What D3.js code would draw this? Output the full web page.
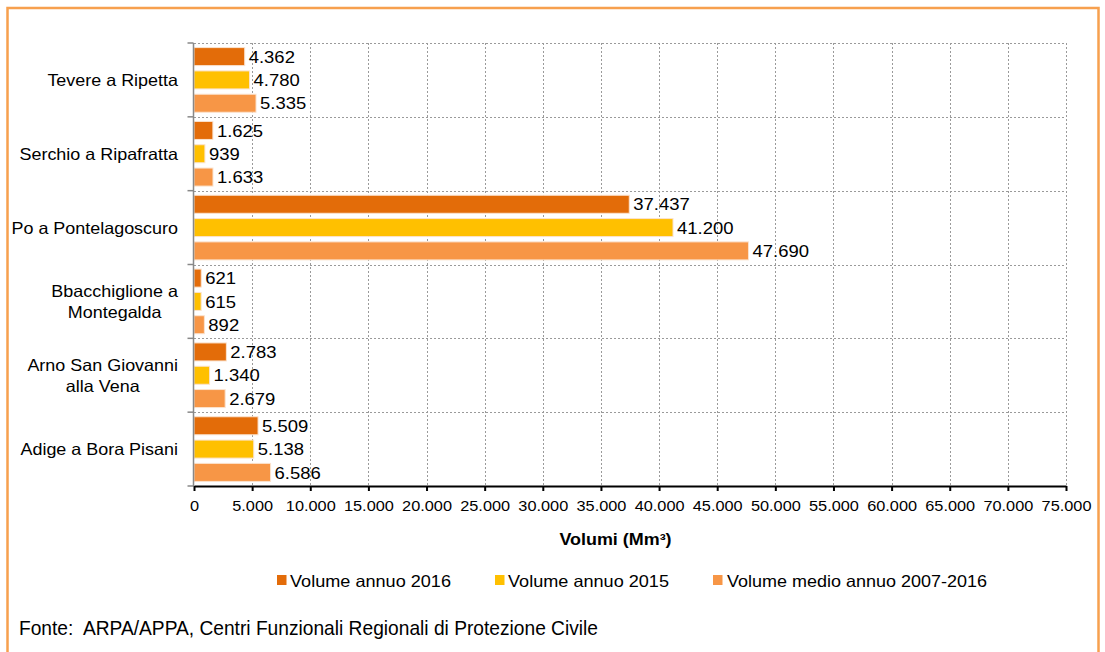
<!DOCTYPE html>
<html><head><meta charset="utf-8">
<script src="https://cdn.jsdelivr.net/npm/d3@7"></script>
<style>body{margin:0;background:#fff}svg{display:block;font-family:"Liberation Sans",Arial,sans-serif}</style>
</head><body>
<svg id="c" width="1105" height="652"></svg>
<script>
const categories = [["Tevere a Ripetta"],["Serchio a Ripafratta"],["Po a Pontelagoscuro"],["Bbacchiglione a","Montegalda"],["Arno San Giovanni","alla Vena"],["Adige a Bora Pisani"]];
const seriesNames = ["Volume annuo 2016","Volume annuo 2015","Volume medio annuo 2007-2016"];
const vol2016 = [4362,1625,37437,621,2783,5509];
const vol2015 = [4780,939,41200,615,1340,5138];
const volAvg  = [5335,1633,47690,892,2679,6586];
const colors = ["#E36C09","#FFC000","#F79646"];
const xTicks = d3.range(0,75001,5000);

const svg = d3.select("#c");
const loc = d3.formatLocale({decimal:",",thousands:".",grouping:[3],currency:["€",""]});
const fmt = loc.format(",d");
const SX = 1.087;
function stretch(sel){
  sel.each(function(){
    const n=this; const w=n.getComputedTextLength();
    n.setAttribute("textLength",(w*SX).toFixed(1));
    n.setAttribute("lengthAdjust","spacingAndGlyphs");
    n.__sw = w*SX;
  });
}

// frame
svg.append("rect").attr("x",7.5).attr("y",8).attr("width",1091).attr("height",660)
  .attr("fill","none").attr("stroke","#F7A04E").attr("stroke-width",2.5);

const L=194, R=1066, T=43, B=486;
const x = d3.scaleLinear().domain([0,75000]).range([L,R]);
const y = d3.scaleBand().domain(d3.range(categories.length)).range([T,B]).padding(0);
const yi = d3.scaleBand().domain([0,1,2]).range([0,y.bandwidth()]).paddingInner(0.227).paddingOuter(0.197);

// grid
const g = svg.append("g");
g.selectAll(".vg").data(xTicks.slice(1)).join("line")
  .attr("x1",d=>Math.round(x(d))+0.5).attr("x2",d=>Math.round(x(d))+0.5).attr("y1",T).attr("y2",B)
  .attr("stroke","#9a9a9a").attr("stroke-dasharray","2,2");
g.selectAll(".hg").data(d3.range(categories.length)).join("line")
  .attr("x1",L).attr("x2",R).attr("y1",d=>Math.round(y(d))+0.5).attr("y2",d=>Math.round(y(d))+0.5)
  .attr("stroke","#9a9a9a").attr("stroke-dasharray","2,2");

// bars
const seriesVals=[vol2016,vol2015,volAvg];
seriesVals.forEach((vals,si)=>{
  svg.append("g").selectAll("rect").data(vals).join("rect")
    .attr("x",x(0)).attr("y",(d,i)=>y(i)+yi(si))
    .attr("width",d=>x(d)-x(0)).attr("height",yi.bandwidth())
    .attr("fill",colors[si]).attr("stroke","#fbe3cf").attr("stroke-width",1);
  svg.append("g").selectAll("text").data(vals).join("text")
    .attr("x",d=>x(d)+4).attr("y",(d,i)=>y(i)+yi(si)+yi.bandwidth()/2)
    .attr("dy","0.36em").attr("font-size",17).attr("fill","#000").text(d=>fmt(d))
    .call(stretch);
});

// y axis
const ya = svg.append("g").attr("transform",`translate(${L-0.5},0)`);
ya.append("line").attr("y1",T).attr("y2",B).attr("stroke","#888").attr("stroke-width",1.5);
ya.selectAll(".t").data(d3.range(categories.length+1)).join("line")
  .attr("x1",-6).attr("x2",0).attr("y1",d=>T+d*y.step()).attr("y2",d=>T+d*y.step()).attr("stroke","#888").attr("stroke-width",1.5);
categories.forEach((lines,i)=>{
  const cy=y(i)+y.bandwidth()/2;
  const grp=svg.append("g");
  const ts = lines.map((ln,k)=>grp.append("text").attr("text-anchor","middle").attr("font-size",16.5).attr("fill","#000")
      .attr("x",0).attr("y",cy+(k-(lines.length-1)/2)*21).attr("dy","0.36em").text(ln));
  let maxW=0;
  ts.forEach(t=>{ stretch(t); maxW=Math.max(maxW,t.node().__sw); });
  const cx=178-maxW/2;
  ts.forEach(t=>t.attr("x",cx));
});

// x axis
const xa = svg.append("g").attr("transform",`translate(0,${B})`)
  .call(d3.axisBottom(x).tickValues(xTicks).tickFormat(fmt).tickSize(5).tickSizeOuter(0));
xa.select(".domain").attr("stroke","#000").attr("stroke-width",2);
xa.selectAll(".tick line").attr("stroke","#000").attr("stroke-width",2);
xa.selectAll("text").attr("font-size",15).attr("fill","#000").attr("font-family","'Liberation Sans',Arial,sans-serif").attr("dy","1.1em")
  .call(stretch);

svg.append("text").attr("x",615.5).attr("y",545).attr("text-anchor","middle").attr("font-size",16.5).attr("font-weight","bold")
  .text("Volumi (Mm³)").call(stretch);

// legend
const legSq=[277,495,713], legTx=[290,508,727], legW=[161,161,260];
seriesNames.forEach((n,i)=>{
  svg.append("rect").attr("x",legSq[i]).attr("y",575).attr("width",9.5).attr("height",10).attr("fill",colors[i]);
  svg.append("text").attr("x",legTx[i]).attr("y",586.5).attr("font-size",16.5)
    .attr("textLength",legW[i]).attr("lengthAdjust","spacingAndGlyphs").text(n);
});

svg.append("text").attr("x",19).attr("y",634.5).attr("font-size",21).style("white-space","pre")
  .attr("textLength",579).attr("lengthAdjust","spacingAndGlyphs")
  .text("Fonte:  ARPA/APPA, Centri Funzionali Regionali di Protezione Civile");
</script>
</body></html>
